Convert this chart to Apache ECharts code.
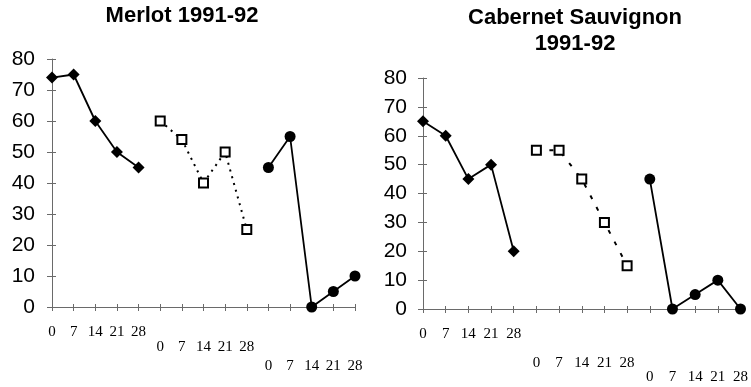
<!DOCTYPE html>
<html>
<head>
<meta charset="utf-8">
<script src="https://cdn.jsdelivr.net/npm/echarts@6/dist/echarts.min.js"></script>
<style>html,body{margin:0;padding:0;background:#fff}#c{width:751px;height:387px}</style>
</head>
<body>
<div id="c"></div>
<script>
// ---- data ----
const days = ['0', '7', '14', '21', '28'];
const groups = 3;
const yTicks = [0, 10, 20, 30, 40, 50, 60, 70, 80];

const merlotTitle = 'Merlot 1991-92';
const merlotA = [74, 75, 60, 50, 45];   // filled diamonds
const merlotB = [60, 54, 40, 50, 25];   // open squares (dotted)
const merlotC = [45, 55, 0, 5, 10];     // filled circles

const cabTitle = 'Cabernet Sauvignon\n1991-92';
const cabA = [65, 60, 45, 50, 20];
const cabB = [55, 55, 45, 30, 15];
const cabC = [45, 0, 5, 10, 0];

// ---- build ----
const cats = [];
for (let g = 0; g < groups; g++) days.forEach(d => cats.push(g + '|' + d));

const chart = echarts.init(document.getElementById('c'), null, {renderer: 'canvas'});

const sans = 'Liberation Sans, Arial, sans-serif';
const serif = 'Liberation Serif, Times New Roman, serif';
const axisGrey = '#6a6a6a';

function xAxes(gridIndex, margins) {
  const res = [];
  for (let g = 0; g < groups; g++) {
    res.push({
      type: 'category', gridIndex, data: cats, boundaryGap: false, position: 'bottom',
      axisLine: {show: g === 0, onZero: false, lineStyle: {color: axisGrey, width: 1}},
      axisTick: {show: g === 0, length: 4, alignWithLabel: true, interval: 0, lineStyle: {color: axisGrey}},
      axisLabel: {
        interval: 0, margin: margins[g], color: '#000', fontFamily: serif, fontSize: 15,
        formatter: v => { const p = v.split('|'); return +p[0] === g ? p[1] : ''; }
      },
      splitLine: {show: false}
    });
  }
  // inner half of crossing ticks
  res.push({
    type: 'category', gridIndex, data: cats, boundaryGap: false, position: 'bottom',
    axisLine: {show: false, onZero: false},
    axisTick: {show: true, inside: true, length: 3, interval: 0, lineStyle: {color: axisGrey}},
    axisLabel: {show: false}, splitLine: {show: false}
  });
  return res;
}

function yAxes(gridIndex, margin) {
  return [{
    type: 'value', gridIndex, min: 0, max: 80, interval: 10,
    axisLine: {show: true, lineStyle: {color: axisGrey, width: 1}},
    axisTick: {show: true, length: 5, lineStyle: {color: axisGrey}},
    axisLabel: {margin, color: '#000', fontFamily: sans, fontSize: 21,
      formatter: v => yTicks.includes(v) ? String(v) : ''},
    splitLine: {show: false}
  }, {
    type: 'value', gridIndex, min: 0, max: 80, interval: 10, position: 'left',
    axisLine: {show: false},
    axisTick: {show: true, inside: true, length: 4, lineStyle: {color: axisGrey}},
    axisLabel: {show: false}, splitLine: {show: false}
  }];
}

function series(xIdx, yIdx, A, B, C, dash) {
  const pts = (arr, g) => arr.map((v, i) => [g * days.length + i, v]);
  return [
    {type: 'line', xAxisIndex: xIdx, yAxisIndex: yIdx, data: pts(A, 0), clip: false,
      symbol: 'diamond', symbolSize: 12, itemStyle: {color: '#000'},
      lineStyle: {color: '#000', width: 1.8}},
    {type: 'line', xAxisIndex: xIdx, yAxisIndex: yIdx, data: pts(B, 1), clip: false,
      symbol: 'rect', symbolSize: 9, itemStyle: {color: '#fff', borderColor: '#000', borderWidth: 2},
      lineStyle: {color: '#000', width: 2, type: dash}},
    {type: 'line', xAxisIndex: xIdx, yAxisIndex: yIdx, data: pts(C, 2), clip: false,
      symbol: 'circle', symbolSize: 11, itemStyle: {color: '#000'},
      lineStyle: {color: '#000', width: 1.8}}
  ];
}

const option = {
  animation: false,
  backgroundColor: '#fff',
  title: [
    {text: merlotTitle, left: 177, top: 0, textAlign: 'center',
      textStyle: {fontFamily: sans, fontWeight: 'bold', fontSize: 22, color: '#000'}},
    {text: cabTitle, left: 570, top: 0, textAlign: 'center',
      textStyle: {fontFamily: sans, fontWeight: 'bold', fontSize: 22, color: '#000', lineHeight: 26}}
  ],
  grid: [
    {left: 52, right: 396, top: 59, bottom: 80, containLabel: false},
    {left: 423, right: 1, top: 78, bottom: 78, containLabel: false}
  ],
  xAxis: [...xAxes(0, [18, 33, 52]), ...xAxes(1, [18, 47, 61])],
  yAxis: [...yAxes(0, 17), ...yAxes(1, 16)],
  series: [
    ...series(0, 0, merlotA, merlotB, merlotC, [2, 5]),
    ...series(4, 2, cabA, cabB, cabC, [4, 9])
  ]
};
chart.setOption(option);
</script>
</body>
</html>
